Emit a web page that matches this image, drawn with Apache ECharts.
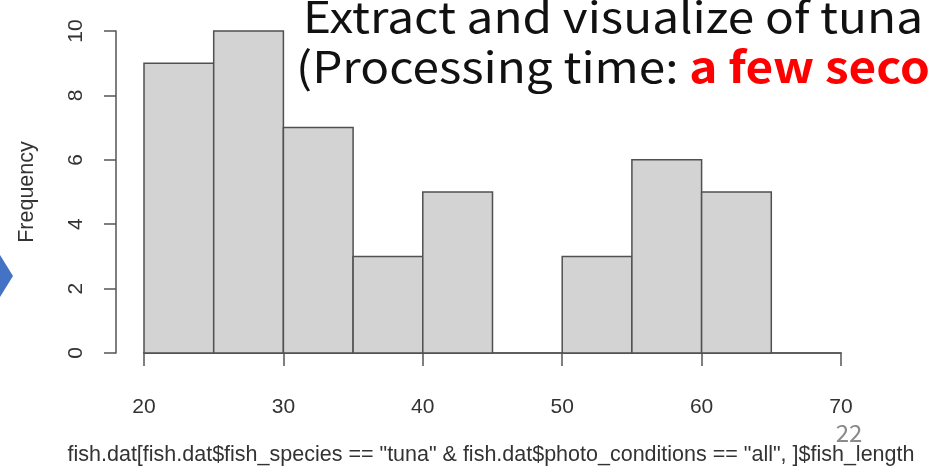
<!DOCTYPE html>
<html>
<head>
<meta charset="utf-8">
<script src="https://cdn.jsdelivr.net/npm/echarts@6/dist/echarts.min.js"></script>
<style>
  html, body { margin: 0; padding: 0; background: #fff; }
  #chart { width: 929px; height: 472px; }
</style>
</head>
<body>
<div id="chart"></div>
<script>
// histogram bins (fish length, width 5) and counts
const binStarts = [20, 25, 30, 35, 40, 45, 50, 55, 60, 65]
const binWidth = 5
const counts = [9, 10, 7, 3, 5, 0, 3, 6, 5, 0]
const xTicks = [20, 30, 40, 50, 60, 70]
const yTicks = [0, 2, 4, 6, 8, 10]

const xLabel = 'fish.dat[fish.dat$fish_species == "tuna" & fish.dat$photo_conditions == "all", ]$fish_length'
const axisFont = "'Liberation Sans', Arial, Helvetica, sans-serif"
const titleFont = "'Noto Sans CJK JP', sans-serif"
const axisColor = '#555'
const textColor = '#333'

const chart = echarts.init(document.getElementById('chart'))

const binData = binStarts.map((s, i) => [s, s + binWidth, counts[i]])

const option = {
  animation: false,
  backgroundColor: '#fff',
  grid: { left: 144, right: 88, top: 31, bottom: 119 },
  xAxis: [
    {
      type: 'value',
      min: xTicks[0],
      max: xTicks[xTicks.length - 1],
      interval: 10,
      offset: 12,
      axisLine: { show: true, lineStyle: { color: axisColor, width: 1.5 } },
      axisTick: { show: true, length: 13, lineStyle: { color: axisColor, width: 1.5 } },
      axisLabel: { fontSize: 21, color: textColor, fontFamily: axisFont, margin: 32 },
      splitLine: { show: false }
    },
    {
      // histogram baseline
      type: 'value',
      min: xTicks[0],
      max: xTicks[xTicks.length - 1],
      position: 'bottom',
      offset: 0,
      axisLine: { show: true, onZero: false, lineStyle: { color: axisColor, width: 1.5 } },
      axisTick: { show: false },
      axisLabel: { show: false },
      splitLine: { show: false }
    }
  ],
  yAxis: {
    type: 'value',
    min: yTicks[0],
    max: yTicks[yTicks.length - 1],
    interval: 2,
    offset: 28,
    name: 'Frequency',
    nameLocation: 'middle',
    nameRotate: 90,
    nameGap: 78,
    nameTextStyle: { fontSize: 21.5, color: textColor, fontFamily: axisFont },
    axisLine: { show: true, lineStyle: { color: axisColor, width: 1.5 } },
    axisTick: { show: true, length: 12, lineStyle: { color: axisColor, width: 1.5 } },
    axisLabel: { rotate: 90, fontSize: 21, color: textColor, fontFamily: axisFont, margin: 29 },
    splitLine: { show: false }
  },
  series: [{
    type: 'custom',
    xAxisIndex: 0,
    yAxisIndex: 0,
    data: binData,
    clip: false,
    renderItem: function (params, api) {
      const x0 = api.value(0), x1 = api.value(1), c = api.value(2)
      if (c <= 0) return null
      const p0 = api.coord([x0, c])
      const p1 = api.coord([x1, 0])
      return {
        type: 'rect',
        shape: { x: p0[0], y: p0[1], width: p1[0] - p0[0], height: p1[1] - p0[1] },
        style: { fill: '#d3d3d3', stroke: '#505050', lineWidth: 1.5 }
      }
    }
  }],
  graphic: [
    {
      type: 'text',
      x: 491, y: 455,
      style: {
        text: xLabel,
        fontSize: 21.5,
        fontFamily: axisFont,
        fill: textColor,
        align: 'center',
        verticalAlign: 'middle'
      }
    },
    {
      type: 'text',
      x: 303, y: 17,
      scaleX: 1.11,
      style: {
        text: 'Extract and visualize of tuna',
        fontSize: 43,
        fontFamily: titleFont,
        fill: '#111',
        verticalAlign: 'middle'
      }
    },
    {
      type: 'text',
      x: 296, y: 67,
      scaleX: 1.11,
      style: {
        text: '(Processing time: {red|a few seconds)}',
        fontSize: 43,
        fontFamily: titleFont,
        fill: '#111',
        verticalAlign: 'middle',
        rich: {
          red: { fontSize: 43, fontWeight: 'bold', fill: '#ff0000', fontFamily: titleFont }
        }
      }
    },
    {
      type: 'text',
      x: 849, y: 433,
      style: {
        text: '22',
        fontSize: 24,
        fontFamily: titleFont,
        fill: '#8a8a8a',
        align: 'center',
        verticalAlign: 'middle'
      }
    },
    {
      type: 'polygon',
      shape: { points: [[0, 255], [13, 276], [0, 297]] },
      style: { fill: '#4472c4' }
    }
  ]
}

chart.setOption(option)
</script>
</body>
</html>
